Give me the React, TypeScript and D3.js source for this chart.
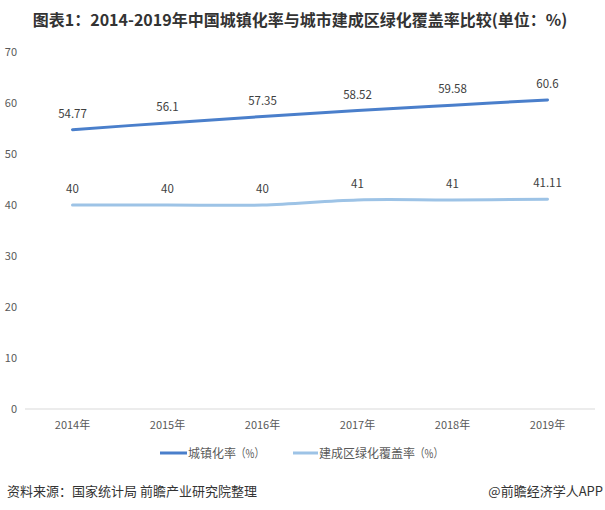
import React from "react";
import * as d3 from "d3";

const years = ["2014年", "2015年", "2016年", "2017年", "2018年", "2019年"];
const urbanization = [54.77, 56.1, 57.35, 58.52, 59.58, 60.6];
const greenCoverage = [40, 40, 40, 41, 41, 41.11];
const urbanLabels = ["54.77", "56.1", "57.35", "58.52", "59.58", "60.6"];
const greenLabels = ["40", "40", "40", "41", "41", "41.11"];
const yTicks = [0, 10, 20, 30, 40, 50, 60, 70];
const seriesNames = ["城镇化率", "建成区绿化覆盖率"];
const unitSuffix = "（%）";

const W = 605;
const H = 510;
const FONT = "'Noto Sans CJK SC', 'Noto Sans', sans-serif";

export default function App() {
  const x = d3.scaleBand<string>().domain(years).range([25, 595]);
  const y = d3.scaleLinear().domain([0, 70]).range([409, 52]);
  const cx = (d: string) => (x(d) ?? 0) + x.bandwidth() / 2;

  const line = d3
    .line<number>()
    .x((_, i) => cx(years[i]))
    .y((v) => y(v))
    .curve(d3.curveCatmullRom.alpha(0));

  const colors = ["#4a7fcb", "#9dc3e6"];
  const series = [
    { values: urbanization, labels: urbanLabels },
    { values: greenCoverage, labels: greenLabels },
  ];
  const legend = [
    { x1: 160, x2: 187, tx: 188 },
    { x1: 293, x2: 318, tx: 319 },
  ];

  return (
    <svg
      width={W}
      height={H}
      style={{ position: "absolute", left: 0, top: 0, background: "#fff" }}
      fontFamily={FONT}
    >
      <text
        x={300}
        y={26}
        textAnchor="middle"
        fontSize={16}
        fontWeight="bold"
        fill="#333"
      >
        图表1：2014-2019年中国城镇化率与城市建成区绿化覆盖率比较(单位：%)
      </text>

      {yTicks.map((t) => (
        <text
          key={t}
          x={17}
          y={y(t) + 4}
          textAnchor="end"
          fontSize={11}
          fill="#595959"
        >
          {t}
        </text>
      ))}

      <line x1={25} x2={595} y1={y(0)} y2={y(0)} stroke="#d9d9d9" strokeWidth={1} />

      {years.map((yr) => (
        <text
          key={yr}
          x={cx(yr)}
          y={429}
          textAnchor="middle"
          fontSize={11}
          fill="#595959"
        >
          {yr}
        </text>
      ))}

      {series.map((s, si) => (
        <g key={si}>
          <path
            d={line(s.values) ?? ""}
            fill="none"
            stroke={colors[si]}
            strokeWidth={3}
            strokeLinecap="round"
          />
          {s.values.map((v, i) => (
            <text
              key={i}
              x={cx(years[i])}
              y={y(v) - 12}
              textAnchor="middle"
              fontSize={11.5}
              fill="#404040"
            >
              {s.labels[i]}
            </text>
          ))}
        </g>
      ))}

      {legend.map((l, i) => (
        <g key={i}>
          <line x1={l.x1} x2={l.x2} y1={453} y2={453} stroke={colors[i]} strokeWidth={3} />
          <text x={l.tx} y={457.5} fontSize={12} fill="#595959">
            <tspan>{seriesNames[i]}</tspan>
            <tspan textLength={28} lengthAdjust="spacingAndGlyphs">
              {unitSuffix}
            </tspan>
          </text>
        </g>
      ))}

      <text x={7} y={496} fontSize={13} fill="#333">
        资料来源：国家统计局 前瞻产业研究院整理
      </text>
      <text x={603} y={496} textAnchor="end" fontSize={13} fill="#333">
        @前瞻经济学人APP
      </text>
    </svg>
  );
}
